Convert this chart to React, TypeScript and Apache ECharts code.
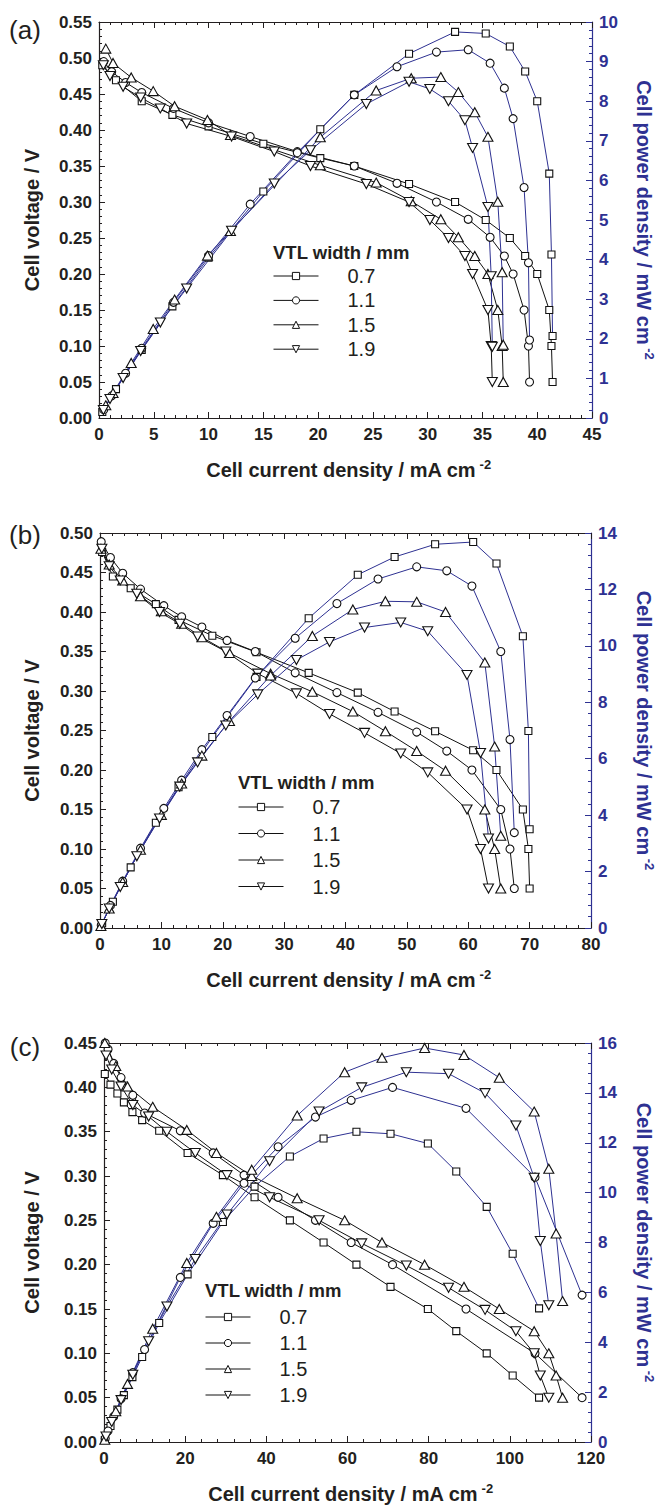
import React, { useEffect, useRef } from 'react';
import * as echarts from 'echarts';

// ---------- legend names ----------
const widths = ['0.7', '1.1', '1.5', '1.9'];

// ---------- axis ranges [min, max, interval] ----------
const aAxisX = [0, 45, 5];
const aAxisV = [0, 0.55, 0.05];
const aAxisP = [0, 10, 1];
const bAxisX = [0, 80, 10];
const bAxisV = [0, 0.5, 0.05];
const bAxisP = [0, 14, 2];
const cAxisX = [0, 120, 20];
const cAxisV = [0, 0.45, 0.05];
const cAxisP = [0, 16, 2];

// ---------- panel (a) ----------
const aI07 = [0.3, 1.55, 3.9, 6.7, 10.0, 15.0, 20.2, 23.3, 28.3, 32.5, 35.3, 37.5, 38.9, 40.0, 41.1, 41.3, 41.4];
const aV07 = [0.490, 0.469, 0.440, 0.421, 0.405, 0.381, 0.361, 0.350, 0.325, 0.300, 0.275, 0.250, 0.225, 0.200, 0.150, 0.100, 0.050];
const aP07 = [0.15, 0.73, 1.72, 2.82, 4.05, 5.72, 7.29, 8.16, 9.20, 9.75, 9.71, 9.38, 8.75, 8.00, 6.17, 4.13, 2.07];

const aI11 = [0.43, 1.16, 2.43, 3.9, 6.8, 10.0, 13.8, 18.1, 23.3, 27.2, 30.8, 33.7, 35.7, 37.0, 37.8, 38.8, 39.2, 39.3];
const aV11 = [0.495, 0.481, 0.466, 0.452, 0.430, 0.410, 0.391, 0.370, 0.350, 0.326, 0.300, 0.276, 0.251, 0.225, 0.200, 0.150, 0.100, 0.050];
const aP11 = [0.21, 0.56, 1.13, 1.76, 2.92, 4.10, 5.40, 6.70, 8.16, 8.87, 9.24, 9.30, 8.96, 8.33, 7.56, 5.82, 3.92, 1.97];

const aI15 = [0.62, 1.28, 2.94, 4.95, 6.9, 9.9, 12.0, 20.2, 25.3, 28.5, 31.2, 32.8, 34.3, 35.5, 36.4, 36.8, 36.9];
const aV15 = [0.513, 0.493, 0.473, 0.454, 0.433, 0.414, 0.393, 0.351, 0.327, 0.301, 0.276, 0.251, 0.225, 0.200, 0.150, 0.100, 0.050];
const aP15 = [0.32, 0.63, 1.39, 2.25, 2.99, 4.10, 4.72, 7.09, 8.27, 8.58, 8.61, 8.23, 7.72, 7.10, 5.46, 3.68, 1.85];

const aI19 = [0.4, 1.0, 2.2, 3.8, 5.6, 8.0, 12.1, 16.0, 19.3, 24.4, 28.3, 30.2, 31.9, 33.4, 34.1, 35.5, 35.8, 35.9];
const aV19 = [0.490, 0.475, 0.460, 0.445, 0.430, 0.409, 0.391, 0.370, 0.350, 0.325, 0.300, 0.275, 0.250, 0.225, 0.200, 0.150, 0.100, 0.050];
const aP19 = [0.20, 0.48, 1.01, 1.69, 2.41, 3.27, 4.73, 5.92, 6.76, 7.93, 8.49, 8.31, 8.00, 7.52, 6.82, 5.33, 3.58, 1.80];

// ---------- panel (b) ----------
const bI07 = [0.35, 2.1, 5.0, 9.1, 12.8, 18.3, 25.5, 34.0, 42.0, 48.0, 54.6, 60.8, 64.6, 68.9, 69.8, 70.0];
const bV07 = [0.476, 0.445, 0.430, 0.410, 0.390, 0.370, 0.349, 0.323, 0.298, 0.274, 0.249, 0.225, 0.200, 0.150, 0.100, 0.050];
const bP07 = [0.17, 0.93, 2.15, 3.73, 4.99, 6.77, 8.90, 10.98, 12.52, 13.15, 13.60, 13.68, 12.92, 10.34, 6.98, 3.50];

const bI11 = [0.2, 1.7, 3.7, 6.6, 10.4, 13.3, 16.6, 20.7, 25.3, 31.8, 38.6, 45.3, 51.6, 56.5, 60.6, 65.3, 66.8, 67.5];
const bV11 = [0.489, 0.469, 0.449, 0.429, 0.408, 0.394, 0.381, 0.364, 0.350, 0.323, 0.298, 0.273, 0.248, 0.224, 0.200, 0.150, 0.100, 0.050];
const bP11 = [0.10, 0.80, 1.66, 2.83, 4.24, 5.24, 6.32, 7.53, 8.86, 10.27, 11.50, 12.37, 12.80, 12.66, 12.12, 9.80, 6.68, 3.38];

const bI15 = [0.15, 1.5, 3.7, 6.6, 10.0, 13.3, 16.6, 21.1, 27.8, 34.6, 41.2, 46.5, 51.6, 56.3, 62.7, 64.3, 65.3];
const bV15 = [0.480, 0.460, 0.440, 0.420, 0.401, 0.385, 0.368, 0.348, 0.322, 0.299, 0.274, 0.249, 0.224, 0.199, 0.150, 0.100, 0.050];
const bP15 = [0.07, 0.69, 1.63, 2.77, 4.01, 5.12, 6.11, 7.34, 8.95, 10.35, 11.29, 11.58, 11.56, 11.20, 9.41, 6.43, 3.27];

const bI19 = [0.3, 1.5, 3.3, 6.0, 9.7, 13.0, 15.9, 20.5, 25.7, 32.0, 37.4, 43.1, 49.0, 53.4, 59.8, 62.0, 63.3];
const bV19 = [0.480, 0.458, 0.440, 0.423, 0.400, 0.385, 0.369, 0.350, 0.322, 0.297, 0.271, 0.247, 0.221, 0.197, 0.150, 0.100, 0.050];
const bP19 = [0.14, 0.69, 1.45, 2.54, 3.88, 5.01, 5.87, 7.18, 8.28, 9.50, 10.14, 10.65, 10.83, 10.52, 8.97, 6.20, 3.17];

// ---------- panel (c) ----------
const cI07 = [0.2, 1.6, 3.3, 4.9, 7.0, 9.4, 13.6, 20.6, 29.3, 37.1, 45.8, 54.1, 62.2, 70.6, 79.8, 86.8, 94.3, 100.7, 107.2];
const cV07 = [0.415, 0.403, 0.393, 0.383, 0.372, 0.363, 0.351, 0.326, 0.301, 0.276, 0.250, 0.225, 0.200, 0.175, 0.150, 0.125, 0.100, 0.075, 0.050];
const cP07 = [0.08, 0.64, 1.30, 1.88, 2.60, 3.41, 4.77, 6.72, 8.82, 10.24, 11.45, 12.17, 12.44, 12.36, 11.97, 10.85, 9.43, 7.55, 5.36];

const cI11 = [0.3, 1.0, 2.4, 4.2, 7.1, 10.0, 18.8, 26.9, 34.5, 42.9, 52.1, 60.9, 71.1, 89.2, 106.2, 117.8];
const cV11 = [0.450, 0.443, 0.427, 0.411, 0.391, 0.371, 0.351, 0.326, 0.301, 0.276, 0.250, 0.225, 0.200, 0.150, 0.100, 0.050];
const cP11 = [0.14, 0.44, 1.02, 1.73, 2.78, 3.71, 6.60, 8.77, 10.38, 11.84, 13.03, 13.70, 14.22, 13.38, 10.62, 5.89];

const cI15 = [0.2, 2.9, 5.8, 12.0, 20.4, 27.7, 36.4, 47.6, 59.3, 68.5, 79.0, 88.7, 97.4, 106.0, 109.6, 111.4, 113.0];
const cV15 = [0.450, 0.424, 0.401, 0.378, 0.352, 0.326, 0.300, 0.275, 0.250, 0.225, 0.200, 0.175, 0.150, 0.125, 0.100, 0.075, 0.050];
const cP15 = [0.09, 1.23, 2.33, 4.54, 7.18, 9.03, 10.92, 13.09, 14.83, 15.41, 15.80, 15.52, 14.61, 13.25, 10.96, 8.36, 5.65];

const cI19 = [0.5, 1.9, 4.2, 7.1, 11.0, 15.5, 22.5, 30.3, 40.8, 53.0, 63.5, 74.5, 84.9, 93.9, 101.5, 106.0, 107.5, 109.6];
const cV19 = [0.436, 0.420, 0.401, 0.380, 0.367, 0.350, 0.326, 0.301, 0.276, 0.250, 0.224, 0.199, 0.174, 0.149, 0.125, 0.100, 0.075, 0.050];
const cP19 = [0.22, 0.80, 1.68, 2.70, 4.04, 5.43, 7.34, 9.12, 11.26, 13.25, 14.22, 14.83, 14.77, 13.99, 12.69, 10.60, 8.06, 5.48];

// ---------- styling / layout ----------
const INK = '#231f20';
const BLUE = '#2e3192';
const FONT = "'Liberation Sans', Arial, Helvetica, sans-serif";

const SYMS = [
  { symbol: 'rect', size: 7, rot: 0 },
  { symbol: 'circle', size: 8, rot: 0 },
  { symbol: 'triangle', size: [10, 9], rot: 0 },
  { symbol: 'triangle', size: [10, 9], rot: 180 },
];

const panels = [
  {
    grid: { left: 99, top: 22, width: 493, height: 396 },
    label: '(a)', labelY: 30, xTitleY: 470,
    ax: aAxisX, av: aAxisV, ap: aAxisP,
    I: [aI07, aI11, aI15, aI19], V: [aV07, aV11, aV15, aV19], P: [aP07, aP11, aP15, aP19],
    lg: { x: 273, titleY: 252, top: 266, gap: 4.4 },
  },
  {
    grid: { left: 100, top: 533, width: 491, height: 395 },
    label: '(b)', labelY: 535, xTitleY: 980,
    ax: bAxisX, av: bAxisV, ap: bAxisP,
    I: [bI07, bI11, bI15, bI19], V: [bV07, bV11, bV15, bV19], P: [bP07, bP11, bP15, bP19],
    lg: { x: 238, titleY: 782, top: 797, gap: 6.5 },
  },
  {
    grid: { left: 104, top: 1043, width: 487, height: 399 },
    label: '(c)', labelY: 1047, xTitleY: 1494,
    ax: cAxisX, av: cAxisV, ap: cAxisP,
    I: [cI07, cI11, cI15, cI19], V: [cV07, cV11, cV15, cV19], P: [cP07, cP11, cP15, cP19],
    lg: { x: 205, titleY: 1290, top: 1307, gap: 6 },
  },
];

function xAxis(gi: number, r: number[], position: string, labels: boolean) {
  return {
    type: 'value', gridIndex: gi, position, min: r[0], max: r[1], interval: r[2],
    axisLine: { show: true, onZero: false, lineStyle: { color: INK, width: 1.2 } },
    axisTick: { show: true, inside: true, length: 6, lineStyle: { color: INK, width: 1 } },
    minorTick: { show: true, splitNumber: 5, length: 3, lineStyle: { color: INK, width: 1 } },
    axisLabel: {
      show: labels, margin: 8, color: INK, fontSize: 17, fontWeight: 'bold', fontFamily: FONT,
      showMinLabel: true, showMaxLabel: true,
    },
    splitLine: { show: false }, minorSplitLine: { show: false },
  };
}

function yAxis(gi: number, r: number[], position: string, color: string, dec: number) {
  return {
    type: 'value', gridIndex: gi, position, min: r[0], max: r[1], interval: r[2],
    axisLine: { show: true, onZero: false, lineStyle: { color, width: 1.2 } },
    axisTick: { show: true, inside: true, length: 6, lineStyle: { color, width: 1 } },
    minorTick: { show: true, splitNumber: 5, length: 3, lineStyle: { color, width: 1 } },
    axisLabel: {
      show: true, margin: 7, color, fontSize: 17, fontWeight: 'bold', fontFamily: FONT,
      showMinLabel: true, showMaxLabel: true,
      formatter: (v: number) => v.toFixed(dec),
    },
    splitLine: { show: false }, minorSplitLine: { show: false },
  };
}

function lineSeries(name: string, I: number[], Y: number[], k: number, xi: number, yi: number, color: string) {
  const s = SYMS[k];
  return {
    type: 'line', name, xAxisIndex: xi, yAxisIndex: yi,
    data: I.map((x, i) => [x, Y[i]]),
    symbol: s.symbol, symbolSize: s.size, symbolRotate: s.rot, showSymbol: true,
    lineStyle: { color, width: 1 },
    itemStyle: { color: '#ffffff', borderColor: '#111111', borderWidth: 1.1 },
    emphasis: { disabled: true }, silent: true, clip: false,
  };
}

function textEl(x: number, y: number, text: string, opts: any = {}) {
  return {
    type: 'text', x, y, rotation: opts.rotation || 0, silent: true,
    style: {
      text, fill: opts.fill || INK, fontFamily: FONT,
      fontSize: opts.fontSize || 20, fontWeight: opts.fontWeight || 'normal',
      align: opts.align || 'center', verticalAlign: 'middle',
      textAlign: opts.align || 'center', textVerticalAlign: 'middle',
      rich: opts.rich,
    },
  };
}

function supRich(fill: string) {
  return {
    t: { fontSize: 20, fontWeight: 'bold', fontFamily: FONT, fill, color: fill, lineHeight: 24 },
    s: { fontSize: 13, fontWeight: 'bold', fontFamily: FONT, fill, color: fill, lineHeight: 15, verticalAlign: 'top' },
  };
}

function buildOption() {
  const grid: any[] = [];
  const xAxes: any[] = [];
  const yAxes: any[] = [];
  const volt: any[] = [];
  const power: any[] = [];
  const legend: any[] = [];
  const graphic: any[] = [];

  panels.forEach((p) => {
    grid.push({ ...p.grid, containLabel: false, outerBoundsMode: 'none' });
  });
  panels.forEach((p, k) => xAxes.push(xAxis(k, p.ax, 'bottom', true)));
  panels.forEach((p, k) => xAxes.push(xAxis(k, p.ax, 'top', false)));
  panels.forEach((p, k) => {
    yAxes.push(yAxis(k, p.av, 'left', INK, 2));
    yAxes.push(yAxis(k, p.ap, 'right', BLUE, 0));
  });

  panels.forEach((p, k) => {
    widths.forEach((w, j) => {
      volt.push(lineSeries(w, p.I[j], p.V[j], j, k, 2 * k, '#111111'));
      power.push(lineSeries(w, p.I[j], p.P[j], j, k, 2 * k + 1, BLUE));
    });

    legend.push({
      orient: 'vertical', left: p.lg.x, top: p.lg.top, padding: 0, itemGap: p.lg.gap,
      itemWidth: 45, itemHeight: 9, selectedMode: false, data: widths,
      lineStyle: { width: 1, color: '#111111' },
      itemStyle: { borderWidth: 1, borderColor: '#111111', color: '#ffffff' },
      textStyle: { color: INK, fontSize: 20, fontFamily: FONT, lineHeight: 20, padding: [0, 0, 0, 24] },
    });

    const g = p.grid;
    const cx = g.left + g.width / 2 + 3;
    const cy = g.top + g.height / 2;
    graphic.push(textEl(25, p.labelY, p.label, { fontSize: 26 }));
    graphic.push(textEl(cx, p.xTitleY, '{t|Cell current density / mA cm}{s| -2}', { rich: supRich(INK) }));
    graphic.push(textEl(32, cy, 'Cell voltage / V', { fontWeight: 'bold', fontSize: 20, rotation: Math.PI / 2 }));
    graphic.push(textEl(644, cy, '{t|Cell power density / mW cm}{s| -2}', { rich: supRich(BLUE), rotation: -Math.PI / 2, fill: BLUE }));
    graphic.push(textEl(p.lg.x, p.lg.titleY, 'VTL width / mm', { fontWeight: 'bold', fontSize: 18.5, align: 'left' }));
  });

  return {
    animation: false,
    backgroundColor: '#ffffff',
    textStyle: { fontFamily: FONT },
    grid, xAxis: xAxes, yAxis: yAxes,
    legend,
    series: [...volt, ...power],
    graphic,
  };
}

export default function App() {
  const ref = useRef<HTMLDivElement>(null);
  useEffect(() => {
    if (!ref.current) return;
    const chart = echarts.init(ref.current, null, { renderer: 'svg', width: 664, height: 1506 });
    chart.setOption(buildOption() as any);
    return () => chart.dispose();
  }, []);
  return (
    <div
      ref={ref}
      style={{ position: 'absolute', left: 0, top: 0, width: 664, height: 1506, background: '#fff' }}
    />
  );
}
